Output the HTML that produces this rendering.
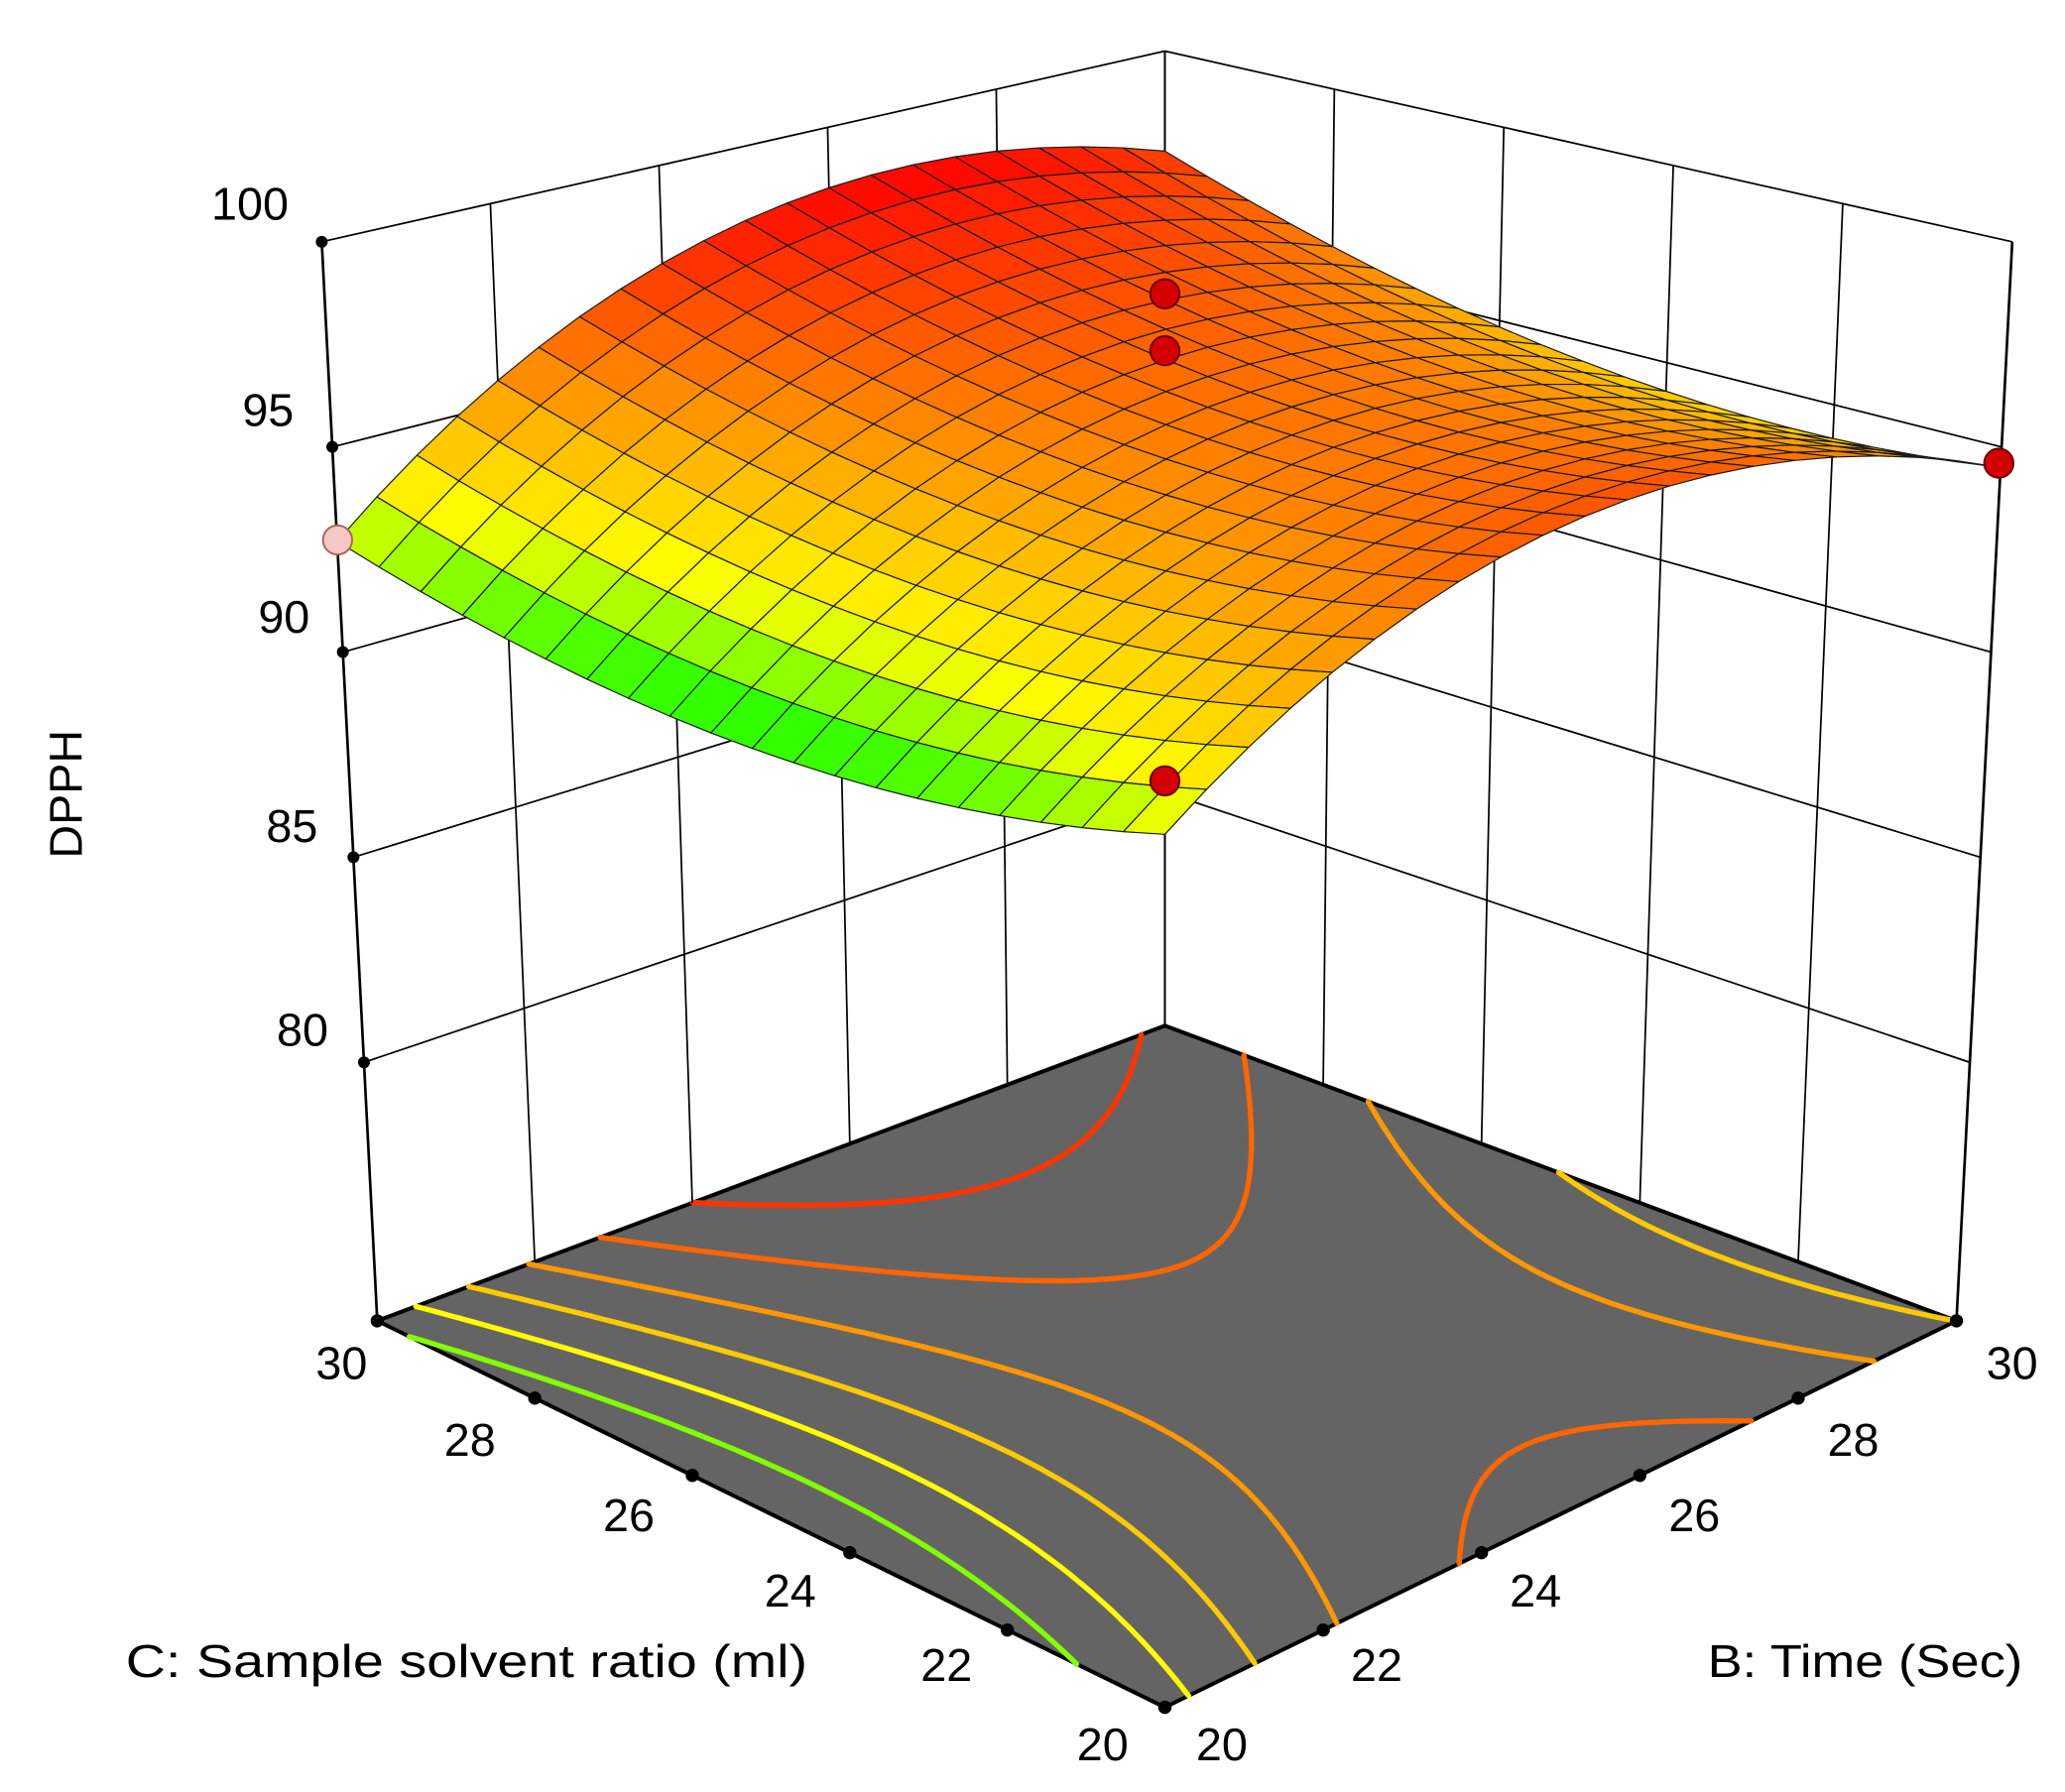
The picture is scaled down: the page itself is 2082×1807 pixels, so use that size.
<!DOCTYPE html>
<html><head><meta charset="utf-8"><style>
html,body{margin:0;padding:0;background:#fff;}
svg{display:block;}
text{font-family:"Liberation Sans","DejaVu Sans",sans-serif;fill:#000;}
</style></head><body>
<svg id="s" width="2082" height="1807" viewBox="0 0 1560 1354" preserveAspectRatio="none" xmlns="http://www.w3.org/2000/svg">
<rect width="1560" height="1354" fill="#fff"/>
<g id="floor"></g>
<g id="walls" stroke="#000" stroke-width="1.3" fill="none"></g>
<g id="surf"></g>
<g id="marks"></g>
<g font-size="35">
<text x="218" y="166" text-anchor="end">100</text>
<text x="222" y="322" text-anchor="end">95</text>
<text x="234" y="478" text-anchor="end">90</text>
<text x="240" y="636" text-anchor="end">85</text>
<text x="248" y="790" text-anchor="end">80</text>
<text transform="translate(62,600) rotate(-90)" text-anchor="middle">DPPH</text>
<text x="258" y="1042" text-anchor="middle">30</text>
<text x="355" y="1100" text-anchor="middle">28</text>
<text x="475" y="1157" text-anchor="middle">26</text>
<text x="597" y="1214" text-anchor="middle">24</text>
<text x="715" y="1270" text-anchor="middle">22</text>
<text x="833" y="1330" text-anchor="middle">20</text>
<text x="923" y="1330" text-anchor="middle">20</text>
<text x="1040" y="1270" text-anchor="middle">22</text>
<text x="1160" y="1214" text-anchor="middle">24</text>
<text x="1280" y="1157" text-anchor="middle">26</text>
<text x="1400" y="1100" text-anchor="middle">28</text>
<text x="1520" y="1042" text-anchor="middle">30</text>
<text x="95" y="1267" textLength="515" lengthAdjust="spacingAndGlyphs">C: Sample solvent ratio (ml)</text>
<text x="1290" y="1267" textLength="238" lengthAdjust="spacingAndGlyphs">B: Time (Sec)</text>
</g>
</svg>
<script>
(function(){
var NS="http://www.w3.org/2000/svg",K=0.00268,Z0=73.7;
function P(b,c,z){var fx=880+598*b-595*c-3*b*c,fy=1290-292*b-292*c+69*b*c;var d=(b+c)/2,s=34-6*d,dz=z-Z0;return [fx+(fx-880)*K*dz,fy-dz*s];}
function f(b,c){var x=2*b-1,y=2*c-1;return 96.1+1.5*x+0.6*y+0.8*x*y-3.1*x*x+1.4*y*y;}
function el(t,a,p){var e=document.createElementNS(NS,t);for(var k in a)e.setAttribute(k,a[k]);p.appendChild(e);return e;}
function pts(a){return a.map(function(p){return p[0].toFixed(1)+","+p[1].toFixed(1)}).join(" ");}
var zmin=1e9,zmax=-1e9,N=20;
for(var i=0;i<=60;i++)for(var j=0;j<=60;j++){var z=f(i/60,j/60);if(z<zmin)zmin=z;if(z>zmax)zmax=z;}
function col(z){var t=(z-zmin)/(zmax-zmin);t=Math.max(0,Math.min(1,t));var h;
 if(t<0.28)h=120-60*(t/0.28);else h=60*(1-(t-0.28)/0.72);
 return "hsl("+h.toFixed(1)+",100%,50%)";}
var fl=document.getElementById("floor");
el("polygon",{points:pts([P(0,0,Z0),P(1,0,Z0),P(1,1,Z0),P(0,1,Z0)]),fill:"#646464",stroke:"#000","stroke-width":3},fl);
var M=80,levels=[];for(var k=1;k<=6;k++)levels.push(zmin+(zmax-zmin)*k/7);
levels.forEach(function(L){var d="";
 for(var i=0;i<M;i++)for(var j=0;j<M;j++){
  var b0=i/M,b1=(i+1)/M,c0=j/M,c1=(j+1)/M;
  var v=[[b0,c0,f(b0,c0)],[b1,c0,f(b1,c0)],[b1,c1,f(b1,c1)],[b0,c1,f(b0,c1)]];
  var cr=[];for(var e=0;e<4;e++){var a=v[e],bb=v[(e+1)%4];if((a[2]-L)*(bb[2]-L)<0){var t=(L-a[2])/(bb[2]-a[2]);cr.push([a[0]+t*(bb[0]-a[0]),a[1]+t*(bb[1]-a[1])]);}}
  for(var q=0;q+1<cr.length;q+=2){var p1=P(cr[q][0],cr[q][1],Z0),p2=P(cr[q+1][0],cr[q+1][1],Z0);d+="M"+p1[0].toFixed(1)+" "+p1[1].toFixed(1)+"L"+p2[0].toFixed(1)+" "+p2[1].toFixed(1);}
 }
 el("path",{d:d,stroke:col(L),"stroke-width":4,fill:"none","stroke-linecap":"round"},fl);
});
var w=document.getElementById("walls");
function line(a,b,sw){el("line",{x1:a[0],y1:a[1],x2:b[0],y2:b[1],"stroke-width":sw||1.3},w);}
[80,85,90,95,100].forEach(function(z){line(P(0,1,z),P(1,1,z));line(P(1,1,z),P(1,0,z));});
for(var k=1;k<5;k++){line(P(k/5,1,Z0),P(k/5,1,100));line(P(1,k/5,Z0),P(1,k/5,100));}
line(P(0,1,Z0),P(0,1,100),2);line(P(1,0,Z0),P(1,0,100),2);line(P(1,1,Z0),P(1,1,100),1.5);
var sg=document.getElementById("surf"),q=[];
for(var i=0;i<N;i++)for(var j=0;j<N;j++){var b0=i/N,b1=(i+1)/N,c0=j/N,c1=(j+1)/N;
 var zc=f((b0+b1)/2,(c0+c1)/2);
 q.push({d:b0+b1+c0+c1,p:[P(b0,c0,f(b0,c0)),P(b1,c0,f(b1,c0)),P(b1,c1,f(b1,c1)),P(b0,c1,f(b0,c1))],z:zc});}
q.sort(function(a,b){return b.d-a.d;});
q.forEach(function(o){el("polygon",{points:pts(o.p),fill:col(o.z),stroke:"#1a1a1a","stroke-width":0.9,"stroke-linejoin":"round"},sg);});
var m=document.getElementById("marks");
[80,85,90,95,100].forEach(function(z){var p=P(0,1,z);el("circle",{cx:p[0],cy:p[1],r:4.5,fill:"#000"},m);});
for(var k=0;k<=5;k++){var a=P(0,k/5,Z0),b=P(k/5,0,Z0);el("circle",{cx:a[0],cy:a[1],r:5,fill:"#000"},m);el("circle",{cx:b[0],cy:b[1],r:5,fill:"#000"},m);}
[[880,222],[880,265],[880,590],[1510,350]].forEach(function(p){el("circle",{cx:p[0],cy:p[1],r:11,fill:"#d40000",stroke:"#600","stroke-width":1.5},m);});
el("circle",{cx:255,cy:408,r:11,fill:"#f7c6c6",stroke:"#a66","stroke-width":1.5},m);
})();
</script>
</body></html>
